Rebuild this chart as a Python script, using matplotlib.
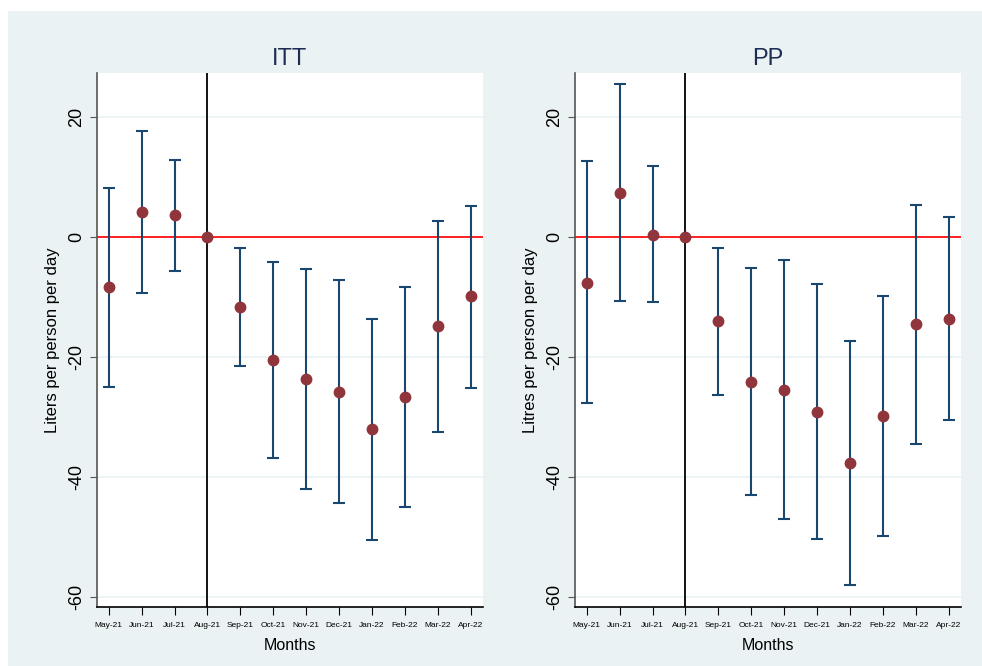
import matplotlib
matplotlib.use('Agg')
import matplotlib.pyplot as plt
from matplotlib.patches import Rectangle
import numpy as np

plt.rcParams['font.family'] = ['Liberation Sans', 'DejaVu Sans']

months = ['May-21', 'Jun-21', 'Jul-21', 'Aug-21', 'Sep-21', 'Oct-21',
          'Nov-21', 'Dec-21', 'Jan-22', 'Feb-22', 'Mar-22', 'Apr-22']

# ITT estimates and 95% CI bounds (Aug-21 is the reference month)
itt_est = [-8.4, 4.2, 3.6, 0.0, -11.6, -20.5, -23.7, -25.8, -32.0, -26.7, -14.9, -9.9]
itt_hi = [8.2, 17.7, 12.8, np.nan, -1.8, -4.2, -5.4, -7.2, -13.6, -8.4, 2.6, 5.1]
itt_lo = [-24.9, -9.4, -5.6, np.nan, -21.4, -36.8, -42.0, -44.3, -50.5, -44.9, -32.4, -25.1]

# PP estimates and 95% CI bounds
pp_est = [-7.6, 7.4, 0.35, 0.0, -14.0, -24.1, -25.4, -29.2, -37.7, -29.8, -14.5, -13.6]
pp_hi = [12.6, 25.4, 11.8, np.nan, -1.8, -5.2, -3.8, -7.9, -17.3, -9.9, 5.3, 3.3]
pp_lo = [-27.7, -10.6, -10.9, np.nan, -26.3, -42.9, -46.9, -50.3, -58.0, -49.7, -34.5, -30.5]

panels = [('ITT', 'Liters per person per day', itt_est, itt_lo, itt_hi),
          ('PP', 'Litres per person per day', pp_est, pp_lo, pp_hi)]

bg = '#eaf2f3'
navy = '#1a476f'
maroon = '#90353b'

fig = plt.figure(figsize=(9.82, 6.66), dpi=100)
fig.patch.set_facecolor('white')
fig.add_artist(Rectangle((8 / 982, 0), 1, 1 - 11 / 666, transform=fig.transFigure,
                         facecolor=bg, edgecolor='none', zorder=-10))

lefts = [97 / 982, 575 / 982]
for (title, ylab, est, lo, hi), left in zip(panels, lefts):
    ax = fig.add_axes([left, 59 / 666, 386 / 982, 534 / 666])
    x = np.arange(len(months))
    est = np.array(est)
    lo = np.array(lo)
    hi = np.array(hi)
    ax.axhline(0, color='#ff2020', lw=1.4, zorder=1)
    ax.axvline(3, color='black', lw=1.3, zorder=1)
    ok = ~np.isnan(lo)
    ax.errorbar(x[ok], est[ok], yerr=[est[ok] - lo[ok], hi[ok] - est[ok]],
                fmt='none', ecolor=navy, elinewidth=1.5, capsize=4.5, capthick=1.5, zorder=2)
    ax.plot(x, est, 'o', color=maroon, markersize=7.5, zorder=3)

    ax.set_xlim(-0.355, 11.37)
    ax.set_ylim(-61.6, 27.3)
    ax.set_yticks([20, 0, -20, -40, -60])
    ax.set_yticklabels(['20', '0', '-20', '-40', '-60'], rotation=90, va='center', fontsize=13)
    ax.set_xticks(x)
    ax.set_xticklabels(months, fontsize=6)
    ax.grid(axis='y', color=bg, lw=1.2, zorder=0)
    ax.set_axisbelow(True)
    ax.spines['top'].set_visible(False)
    ax.spines['right'].set_visible(False)
    ax.spines['left'].set_color('#555555')
    ax.spines['left'].set_linewidth(1.2)
    ax.spines['bottom'].set_linewidth(1.2)
    ax.tick_params(axis='y', length=5, colors='#555555', labelcolor='black')
    ax.tick_params(axis='x', length=6, pad=5)
    ax.set_title(title, fontsize=17, color='#1e2d53', pad=6)
    ax.set_ylabel(ylab, fontsize=12, labelpad=6)
    ax.set_xlabel('Months', fontsize=11.5, labelpad=6)

plt.savefig('out.png', dpi=100, facecolor=fig.get_facecolor())
